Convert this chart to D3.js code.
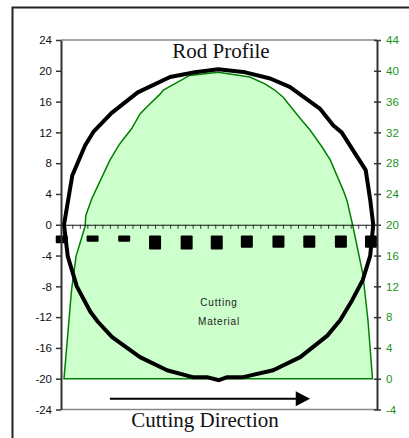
<!DOCTYPE html>
<html lang="en">
  <head>
    <meta charset="utf-8">
    <title>Rod Profile</title>
    <style>
      body { margin: 0; background: #fff; }
      svg { display: block; }
    </style>
  </head>
  <body>
    <div id="chart"></div>
    <script src="https://d3js.org/d3.v7.min.js" charset="utf-8"></script>
    <script>
      // rod profile, left axis units
      let profileX = [-20.6, -19.5, -17.8, -16.7, -14.3, -10.8, -6.5, -3.2, -0.1, 3.5, 6.8, 9.4, 13.4, 15.2, 16.3, 17.8, 19.5, 20.1, 20.5,
                      20.1, 19.1, 17.7, 16.1, 14.4, 10.8, 7.2, 3.2, 1.1, 0, -1.6, -3.5, -6.9, -10.5, -14.2, -16.1, -17.1, -18.9, -20.1];
      let profileY = [0, 6.4, 10.3, 12.05, 14.5, 17.2, 19.2, 19.8, 20.2, 19.8, 19.0, 17.9, 15.1, 12.9, 12.0, 9.7, 7.1, 3.2, 0,
                      -4.0, -7.2, -9.8, -12.4, -14.4, -17.2, -18.9, -19.8, -19.8, -20.2, -19.8, -19.8, -18.9, -17.2, -14.6, -12.6, -11.3, -8.0, -4.1];

      // cutting material, right axis units
      let materialX = [-20.6, -19.6, -19.0, -17.8, -17.7, -16.9, -14.5, -13.2, -11.6, -10.5, -9.6, -7.8, -7.4, -3.9, -0.1,
                       4.1, 6.1, 7.4, 8.5, 10.8, 12.1, 13.7, 14.8, 16.5, 17.0, 17.8, 19.1, 19.8, 20.4];
      let materialY = [0, 11.5, 15.9, 19.8, 21.2, 23.4, 28.4, 30.5, 32.5, 34.4, 35.3, 37.0, 37.5, 39.4, 39.8,
                       39.2, 38.3, 37.5, 36.6, 33.8, 32.3, 30.1, 28.4, 24.5, 23.2, 19.8, 13.7, 7.6, 0];

      // chip markers, left axis units
      let chipX = [-20.9, -16.8, -12.6, -8.5, -4.3, -0.3, 3.7, 7.9, 12.0, 16.2, 20.2];
      let chipTop = [-1.4, -1.4, -1.4, -1.4, -1.4, -1.4, -1.4, -1.4, -1.4, -1.4, -1.4];
      let chipBottom = [-2.4, -2.2, -2.2, -3.2, -3.2, -3.2, -3.0, -3.0, -3.0, -3.0, -3.0];

      let leftTicks = d3.range(-24, 25, 4);
      let rightTicks = d3.range(-4, 45, 4);
      let minorTicks = d3.range(-20.5, 21, 1);

      let width = 409, height = 438;
      let svg = d3.select('#chart').append('svg')
        .attr('width', width).attr('height', height)
        .style('font-family', 'Arial, "Liberation Sans", sans-serif');

      let x = d3.scaleLinear().domain([-21, 21]).range([61, 377]);
      let y = d3.scaleLinear().domain([-24, 24]).range([409.5, 40]);
      let y2 = d3.scaleLinear().domain([-4, 44]).range([409.5, 40]);

      // outer frame (cut off at right/bottom)
      svg.append('path')
        .attr('d', 'M12.5,' + height + 'V7.5H' + width)
        .attr('fill', 'none').attr('stroke', '#222').attr('stroke-width', 2);

      // plot area top / bottom border
      svg.selectAll('.border').data([24, -24]).enter().append('line')
        .attr('x1', x(-21)).attr('x2', x(21))
        .attr('y1', d => y(d)).attr('y2', d => y(d))
        .attr('stroke', '#888').attr('stroke-width', 1.5);

      // cutting material area
      let area = d3.area()
        .x((d, i) => x(materialX[i]))
        .y0(y2(0))
        .y1((d, i) => y2(materialY[i]));
      svg.append('path')
        .attr('d', area(materialX) + 'Z')
        .attr('fill', '#ccffcc')
        .attr('stroke', '#008000').attr('stroke-width', 1.5);

      // x axis at y = 0 with minor ticks
      let xAxis = svg.append('g')
        .attr('transform', 'translate(0,' + y(0) + ')')
        .call(d3.axisBottom(x).tickValues(minorTicks).tickSize(4).tickSizeOuter(0).tickFormat(''));
      xAxis.select('.domain').attr('stroke', '#111');
      xAxis.selectAll('.tick line').attr('stroke', '#333');

      // chips
      svg.selectAll('.chip').data(chipX).enter().append('rect')
        .attr('x', d => x(d) - 6)
        .attr('width', 12)
        .attr('y', (d, i) => y(chipTop[i]))
        .attr('height', (d, i) => y(chipBottom[i]) - y(chipTop[i]))
        .attr('rx', 1)
        .attr('fill', '#000');

      // rod profile
      let line = d3.line()
        .x((d, i) => x(profileX[i]))
        .y((d, i) => y(profileY[i]))
        .curve(d3.curveLinearClosed);
      svg.append('path')
        .attr('d', line(profileX))
        .attr('fill', 'none')
        .attr('stroke', '#000').attr('stroke-width', 4)
        .attr('stroke-linejoin', 'round');

      // left axis
      let leftAxis = svg.append('g')
        .attr('transform', 'translate(' + x(-21) + ',0)')
        .call(d3.axisLeft(y).tickValues(leftTicks).tickSize(5).tickSizeOuter(0).tickFormat(d => String(d)));
      leftAxis.select('.domain').attr('stroke', '#333').attr('stroke-width', 2);
      leftAxis.selectAll('.tick line').attr('stroke', '#333').attr('stroke-width', 1.5);
      leftAxis.selectAll('.tick text').attr('x', -9).attr('font-size', 11.5).attr('fill', '#111');

      // right axis
      let rightAxis = svg.append('g')
        .attr('transform', 'translate(' + x(21) + ',0)')
        .call(d3.axisRight(y2).tickValues(rightTicks).tickSize(4).tickSizeOuter(0).tickFormat(d => String(d)));
      rightAxis.select('.domain').attr('stroke', '#333').attr('stroke-width', 2);
      rightAxis.selectAll('.tick line').attr('x1', -3).attr('stroke', '#333').attr('stroke-width', 1.5);
      rightAxis.selectAll('.tick text').attr('x', 9).attr('font-size', 11.5).attr('fill', '#1a931a');

      // labels
      svg.append('text')
        .attr('x', 221).attr('y', 58)
        .attr('text-anchor', 'middle')
        .attr('font-family', '"Times New Roman", "Liberation Serif", serif')
        .attr('font-size', 21).attr('fill', '#111')
        .text('Rod Profile');

      svg.append('text')
        .attr('x', 219).attr('y', 306)
        .attr('text-anchor', 'middle')
        .attr('font-size', 10).attr('letter-spacing', 0.8).attr('fill', '#222')
        .text('Cutting');
      svg.append('text')
        .attr('x', 219).attr('y', 325)
        .attr('text-anchor', 'middle')
        .attr('font-size', 10).attr('letter-spacing', 0.8).attr('fill', '#222')
        .text('Material');

      // cutting direction arrow
      let ay = y(-22.6);
      svg.append('line')
        .attr('x1', x(-14.5)).attr('x2', x(11))
        .attr('y1', ay).attr('y2', ay)
        .attr('stroke', '#000').attr('stroke-width', 2);
      svg.append('path')
        .attr('d', 'M' + x(10.2) + ',' + (ay - 7.5) + 'L' + x(12.1) + ',' + ay + 'L' + x(10.2) + ',' + (ay + 7.5) + 'Z')
        .attr('fill', '#000');

      svg.append('text')
        .attr('x', 205).attr('y', 427)
        .attr('text-anchor', 'middle')
        .attr('font-family', '"Times New Roman", "Liberation Serif", serif')
        .attr('font-size', 21).attr('fill', '#111')
        .text('Cutting Direction');
    </script>
  </body>
</html>
